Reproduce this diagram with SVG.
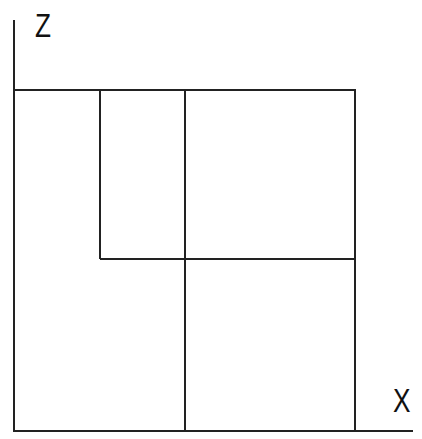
<svg xmlns="http://www.w3.org/2000/svg" width="422" height="439" viewBox="0 0 422 439">
<style>
.ln{stroke:#222;stroke-width:2;fill:none}
.lbl{font-family:"Liberation Sans",Arial,sans-serif;font-size:34px;fill:#111}
</style>
<rect width="422" height="439" fill="#fff"/>
<g id="axes">
<line class="ln" x1="14" y1="20" x2="14" y2="431"/>
<line class="ln" x1="13" y1="431" x2="413" y2="431"/>
</g>
<g id="connectors">
<line class="ln" x1="14" y1="90" x2="356" y2="90"/>
<line class="ln" x1="355" y1="90" x2="355" y2="431"/>
<line class="ln" x1="100" y1="90" x2="100" y2="259"/>
<line class="ln" x1="185" y1="90" x2="185" y2="431"/>
<line class="ln" x1="100" y1="259" x2="355" y2="259"/>
</g>
<g id="label-z"><text class="lbl" x="35" y="36.7" textLength="16" lengthAdjust="spacingAndGlyphs">Z</text></g>
<g id="label-x"><text class="lbl" x="393" y="412.3" textLength="17.5" lengthAdjust="spacingAndGlyphs">X</text></g>
</svg>
